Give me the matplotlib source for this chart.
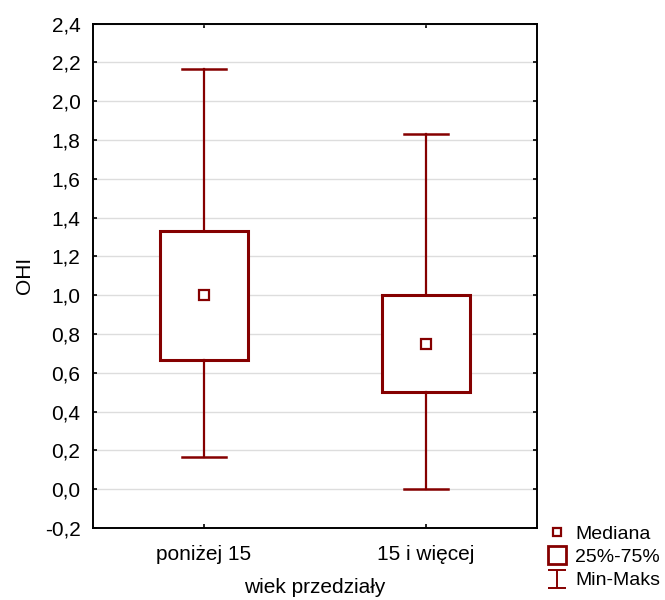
import matplotlib
matplotlib.use("Agg")
import matplotlib.pyplot as plt
from matplotlib.lines import Line2D
from matplotlib.path import Path
from matplotlib.ticker import FuncFormatter

categories = ["poniżej 15", "15 i więcej"]
medians = [1.0, 0.75]
q1 = [0.667, 0.5]
q3 = [1.333, 1.0]
mins = [0.167, 0.0]
maxs = [2.167, 1.833]
yticks = [-0.2, 0.0, 0.2, 0.4, 0.6, 0.8, 1.0, 1.2, 1.4, 1.6, 1.8, 2.0, 2.2, 2.4]

red = "#850000"
plt.rcParams['font.family'] = ['Liberation Sans', 'DejaVu Sans']
fs = 15

fig = plt.figure(figsize=(6.65, 6.0), dpi=100)
ax = fig.add_axes([93/665, 1-528/600, (537-93)/665, (528-23.5)/600])

pos = list(range(len(categories)))
stats = []
for i in pos:
    stats.append(dict(med=medians[i], q1=q1[i], q3=q3[i], whislo=mins[i], whishi=maxs[i], fliers=[]))
ax.bxp(stats, positions=pos, widths=0.4, capwidths=0.2, showfliers=False, patch_artist=True,
       boxprops=dict(facecolor="white", edgecolor=red, linewidth=2.2),
       whiskerprops=dict(color=red, linewidth=1.6),
       capprops=dict(color=red, linewidth=1.8),
       medianprops=dict(linestyle="none"), zorder=3)
ax.plot(pos, medians, linestyle="none", marker="s", markersize=6.5, markerfacecolor="white",
        markeredgecolor=red, markeredgewidth=1.6, zorder=4)

ax.set_xlim(-0.5, 1.5)
ax.set_ylim(-0.2, 2.4)
ax.set_yticks(yticks)
ax.yaxis.set_major_formatter(FuncFormatter(lambda v, p: f"{v:.1f}".replace(".", ",").replace("-0,0", "0,0")))
ax.set_xticks(pos)
ax.set_xticklabels(categories)
ax.grid(axis="y", color="#dddddd", linewidth=1.0)
ax.set_axisbelow(True)
for s in ax.spines.values():
    s.set_linewidth(1.4)
    s.set_color("black")
ax.tick_params(axis="both", labelsize=fs, length=3, width=1.2, colors="black",
               direction="in", top=True, right=True)
ax.tick_params(axis="y", pad=9)
ax.tick_params(axis="x", pad=12)

ax.set_xlabel("wiek przedziały", fontsize=fs, labelpad=10)
ax.set_ylabel("OHI", fontsize=fs, labelpad=8)

# legend
ibeam = Path([(-1, 1), (1, 1), (0, 1), (0, -1), (-1, -1), (1, -1)],
             [Path.MOVETO, Path.LINETO, Path.MOVETO, Path.LINETO, Path.MOVETO, Path.LINETO])
handles = [
    Line2D([], [], linestyle="none", marker="s", markersize=6, markerfacecolor="white",
           markeredgecolor=red, markeredgewidth=1.6),
    Line2D([], [], linestyle="none", marker="s", markersize=13, markerfacecolor="white",
           markeredgecolor=red, markeredgewidth=2.0),
    Line2D([], [], linestyle="none", marker=ibeam, markersize=13, markerfacecolor="none",
           markeredgecolor=red, markeredgewidth=1.4),
]
fig.legend(handles, ["Mediana", "25%-75%", "Min-Maks"], loc="upper left",
           bbox_to_anchor=(545/665, 1-523/600), frameon=False, fontsize=14,
           handlelength=1.0, handletextpad=0.45, labelspacing=0.3, borderaxespad=0, borderpad=0.1)

fig.savefig("out.png", dpi=100)
